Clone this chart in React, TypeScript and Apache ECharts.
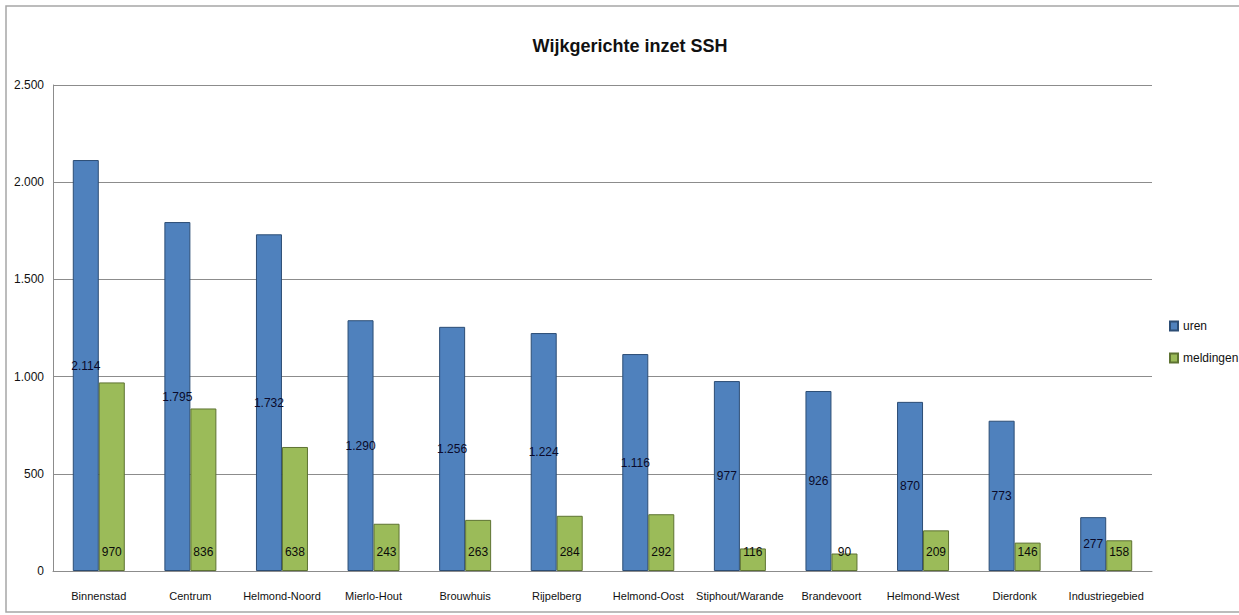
import React, { useEffect, useRef } from "react";
import * as echarts from "echarts";

const categories = [
  "Binnenstad", "Centrum", "Helmond-Noord", "Mierlo-Hout", "Brouwhuis", "Rijpelberg",
  "Helmond-Oost", "Stiphout/Warande", "Brandevoort", "Helmond-West", "Dierdonk", "Industriegebied",
];
const uren = [2114, 1795, 1732, 1290, 1256, 1224, 1116, 977, 926, 870, 773, 277];
const meldingen = [970, 836, 638, 243, 263, 284, 292, 116, 90, 209, 146, 158];

const FONT = "'Liberation Sans', Arial, sans-serif";

function fmt(v: number): string {
  const s = String(Math.round(v));
  return s.replace(/\B(?=(\d{3})+(?!\d))/g, ".");
}

export default function App() {
  const ref = useRef<HTMLDivElement>(null);
  useEffect(() => {
    if (!ref.current) return;
    const chart = echarts.init(ref.current, undefined, { renderer: "svg" });
    chart.setOption({
      animation: false,
      backgroundColor: "#ffffff",
      textStyle: { fontFamily: FONT },
      title: {
        text: "Wijkgerichte inzet SSH",
        left: 625,
        textAlign: "center",
        top: 32,
        textStyle: { fontFamily: FONT, fontSize: 18, fontWeight: "bold", color: "#111" },
      },
      graphic: [
        {
          type: "rect",
          shape: { x: 6, y: 6, width: 1250, height: 606 },
          style: { fill: "none", stroke: "#a6a6a6", lineWidth: 1.5 },
          silent: true,
        },
      ],
      legend: {
        orient: "vertical",
        left: 1164,
        top: 315,
        itemWidth: 8,
        itemHeight: 9,
        itemGap: 20,
        icon: "rect",
        textStyle: { fontFamily: FONT, fontSize: 12, color: "#111" },
        data: ["uren", "meldingen"],
      },
      grid: { left: 53, right: 87, top: 85, bottom: 44 },
      xAxis: {
        type: "category",
        data: categories,
        axisLine: { lineStyle: { color: "#8c8c8c" } },
        axisTick: { show: false },
        axisLabel: { fontFamily: FONT, fontSize: 11, color: "#111", margin: 19, interval: 0 },
      },
      yAxis: {
        type: "value",
        min: 0,
        max: 2500,
        interval: 500,
        axisLine: { show: true, lineStyle: { color: "#8c8c8c" } },
        axisTick: { show: false },
        splitLine: { lineStyle: { color: "#8c8c8c" } },
        axisLabel: {
          fontFamily: FONT, fontSize: 12, color: "#111", margin: 9,
          formatter: (v: number) => fmt(v),
        },
      },
      series: [
        {
          name: "uren",
          type: "bar",
          data: uren,
          barWidth: 26,
          barGap: "0%",
          itemStyle: { color: "#4F81BD", borderColor: "#2c4d75", borderWidth: 1 },
          label: {
            show: true,
            position: "inside",
            fontFamily: FONT,
            fontSize: 12,
            color: "#0a0a2a",
            formatter: (p: any) => fmt(p.value),
          },
        },
        {
          name: "meldingen",
          type: "bar",
          data: meldingen,
          barWidth: 26,
          barGap: "0%",
          itemStyle: { color: "#9BBB59", borderColor: "#5e7332", borderWidth: 1 },
          label: {
            show: true,
            position: "insideBottom",
            distance: 13,
            fontFamily: FONT,
            fontSize: 12,
            color: "#0a0a0a",
            formatter: (p: any) => fmt(p.value),
          },
        },
      ],
    });
    return () => chart.dispose();
  }, []);
  return (
    <div
      ref={ref}
      style={{ position: "absolute", left: 0, top: 0, width: 1239, height: 615 }}
    />
  );
}
